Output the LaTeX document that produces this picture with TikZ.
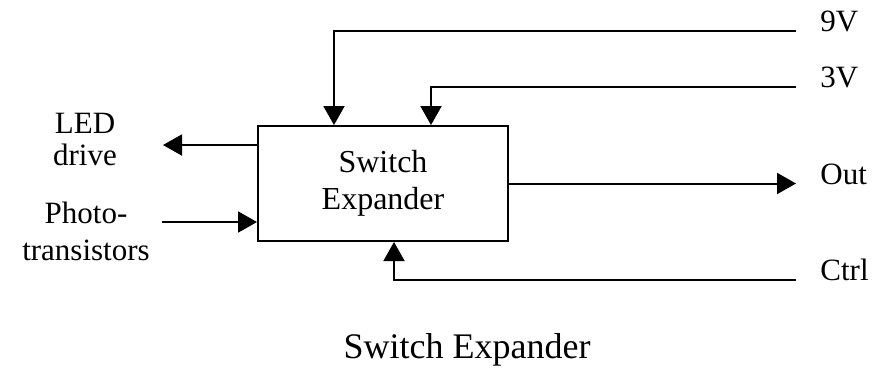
\documentclass[tikz,border=0pt]{standalone}
\usepackage{fontspec}
\setmainfont{Liberation Serif}
\usetikzlibrary{arrows.meta,positioning,calc}

\begin{document}
\begin{tikzpicture}[
  x=0.5pt, y=-0.5pt,
  >={Triangle[length=9.5pt,width=10.5pt]},
  every node/.style={font=\fontsize{15.5}{16}\selectfont},
  block/.style={draw, line width=1pt, minimum width=125pt, minimum height=57.5pt, align=center, font=\fontsize{16}{18.5}\selectfont},
  sig/.style={line width=1pt},
  rlbl/.style={anchor=base west, inner xsep=12pt, inner ysep=0pt},
  llbl/.style={align=center, inner sep=0pt}
]
\useasboundingbox (0,0) rectangle (886,372);

\node[block] (sw) at (383,183.5) {Switch\\Expander};

% supply and signal labels on the right
\node[rlbl] (v9) at (796,31) {9V};
\node[rlbl] (v3) at (796,87) {3V};
\node[rlbl] (out) at (796,184) {Out};
\node[rlbl] (ctrl) at (796,280) {Ctrl};

% labels on the left
\node[llbl] (led) at (85,139) {LED\\drive};
\node[llbl, font=\fontsize{15.5}{18.5}\selectfont] (photo) at (86,231) {Photo-\\transistors};
\coordinate (ledtip) at (163,145);
\coordinate (phstart) at (162,222);

\draw[sig,->] (v9.base west) -| ($(sw.north west)+(77,0)$);
\draw[sig,->] (v3.base west) -| ($(sw.north west)+(174,0)$);
\draw[sig,->] (sw.east) -- (sw.east -| out.base west);
\draw[sig,->] (ctrl.base west) -| ($(sw.south)+(11,0)$);
\draw[sig,->] (sw.west |- ledtip) -- (ledtip);
\draw[sig,->] (phstart) -- (phstart -| sw.west);

\node[font=\fontsize{18}{20}\selectfont, anchor=base] (cap) at (467,358) {Switch Expander};
\end{tikzpicture}
\end{document}
